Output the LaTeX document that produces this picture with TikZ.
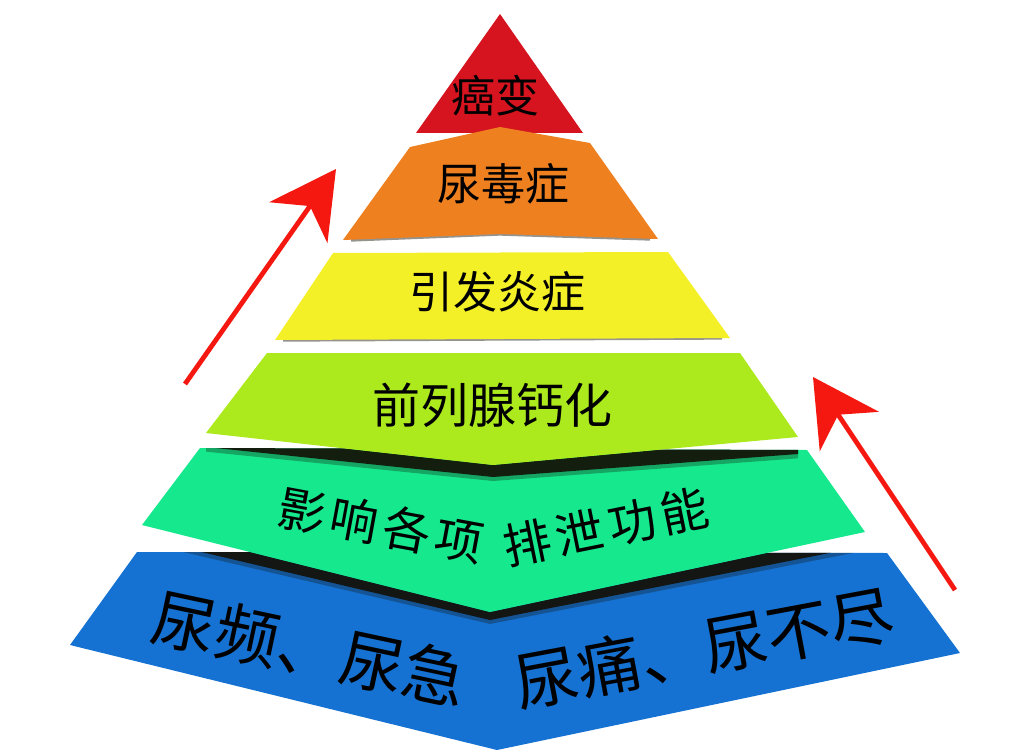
\documentclass[tikz,border=0pt]{standalone}
\usepackage{fontspec}
\newfontfamily\cjk{Noto Sans CJK SC}
\usetikzlibrary{arrows.meta}
\definecolor{cRed}{RGB}{214,20,32}
\definecolor{cOrange}{RGB}{238,128,32}
\definecolor{cYellow}{RGB}{244,240,40}
\definecolor{cLime}{RGB}{172,234,30}
\definecolor{cGreen}{RGB}{22,232,142}
\definecolor{cBlue}{RGB}{22,114,210}
\definecolor{cArrow}{RGB}{244,24,16}
\definecolor{cShadow}{RGB}{20,16,6}
\begin{document}
\begin{tikzpicture}[x=0.75pt,y=-0.75pt,
  lbl/.style={font=\cjk, text=black, inner sep=0pt},
  fsmall/.style={lbl, font=\cjk\fontsize{33}{33}\selectfont},
  fmid/.style={lbl, font=\cjk\fontsize{36}{36}\selectfont},
  fgreen/.style={lbl, font=\cjk\fontsize{36}{36}\selectfont},
  fbig/.style={lbl, font=\cjk\fontsize{48}{48}\selectfont},
  uparrow/.style={draw=cArrow, line width=3.6pt,
    -{Stealth[length=49pt,width=53pt,inset=15pt,fill=cArrow]}},
  shade1/.style={fill=cShadow, opacity=0.9},
  shade2/.style={fill=cShadow, opacity=0.3},
  edge/.style={draw=cShadow, line width=2.5pt, opacity=0.45}]
\useasboundingbox (0,0) rectangle (1024,756);
\fill[white] (0,0) rectangle (1024,756);

% ---- vertices ----
\coordinate (R1) at (500,14);  \coordinate (R2) at (583,133); \coordinate (R3) at (416,133);
\coordinate (O1) at (410,147); \coordinate (O2) at (500,127); \coordinate (O3) at (590,143);
\coordinate (O4) at (658,239); \coordinate (O5) at (500,234); \coordinate (O6) at (343,240);
\coordinate (Y1) at (333,253); \coordinate (Y2) at (668,252); \coordinate (Y3) at (730,338); \coordinate (Y4) at (275,340);
\coordinate (L1) at (267,353); \coordinate (L2) at (740,353); \coordinate (L3) at (798,437);
\coordinate (L4) at (493,465); \coordinate (L5) at (206,433);
\coordinate (G1) at (200,448); \coordinate (G2) at (807,450); \coordinate (G3) at (865,532);
\coordinate (G4) at (490,612); \coordinate (G5) at (142,525);
\coordinate (B1) at (137,552); \coordinate (B2) at (887,553); \coordinate (B3) at (960,653);
\coordinate (B4) at (497,750); \coordinate (B5) at (70,645);

% ---- blue layer ----
\fill[cBlue] (B1) -- (B2) -- (B3) -- (B4) -- (B5) -- cycle;
\begin{scope}
  \clip (B1) -- (B2) -- (B3) -- (B4) -- (B5) -- cycle;
  \fill[shade2] (G5) -- (G4) -- (G3) -- ([yshift=-14pt]G3) -- ([yshift=-9pt]G4) -- ([yshift=-13pt]G5) -- cycle;
  \fill[shade1] (G5) -- (G4) -- (G3) -- ([yshift=-10.5pt]G3) -- ([yshift=-6pt]G4) -- ([yshift=-9.75pt]G5) -- cycle;
\end{scope}

% ---- green layer ----
\fill[cGreen] (G1) -- (G2) -- (G3) -- (G4) -- (G5) -- cycle;
\begin{scope}
  \clip (G1) -- (G2) -- (G3) -- (G4) -- (G5) -- cycle;
  \fill[shade2] (L5) -- (L4) -- (L3) -- ([yshift=-16pt]L3) -- ([yshift=-12pt]L4) -- ([yshift=-14pt]L5) -- cycle;
  \fill[shade1] (L5) -- (L4) -- (L3) -- ([yshift=-12.75pt]L3) -- ([yshift=-9pt]L4) -- ([yshift=-10.5pt]L5) -- cycle;
\end{scope}

% ---- lime layer ----
\fill[cLime] (L1) -- (L2) -- (L3) -- (L4) -- (L5) -- cycle;

% ---- yellow layer ----
\draw[edge] ([xshift=6]Y4) -- ([xshift=-6]Y3);
\fill[cYellow] (Y1) -- (Y2) -- (Y3) -- (Y4) -- cycle;

% ---- red top ----
\fill[cRed] (R1) -- (R2) -- (R3) -- cycle;

% ---- orange layer ----
\draw[edge] ([xshift=6]O6) -- (O5) -- ([xshift=-6]O4);
\fill[cOrange] (O1) -- (O2) -- (O3) -- (O4) -- (O5) -- (O6) -- cycle;

% ---- labels ----
\node[fsmall] (t1) at (495,96) {癌变};
\node[fsmall] (t2) at (503,184) {尿毒症};
\node[fsmall] (t3) at (497,292) {引发炎症};
\node[fmid]   (t4) at (492,405) {前列腺钙化};
\node[fgreen, rotate=-10.5] (t5a) at (381,525) {影\kern4pt 响\kern4pt 各\kern4pt 项};
\node[fgreen, rotate=11.5]  (t5b) at (606,527) {排\kern4pt 泄\kern4pt 功\kern4pt 能};
\node[fbig, rotate=-12]   (t6a) at (310,649) {尿频、尿急};
\node[fbig, rotate=10.6]  (t6b) at (704,648) {尿痛、尿不尽};

% ---- arrows ----
\coordinate (a1s) at (185,384); \coordinate (a1e) at (336,169);
\coordinate (a2s) at (955,590); \coordinate (a2e) at (813,377);
\draw[uparrow] (a1s) -- (a1e);
\draw[uparrow] (a2s) -- (a2e);
\end{tikzpicture}
\end{document}
